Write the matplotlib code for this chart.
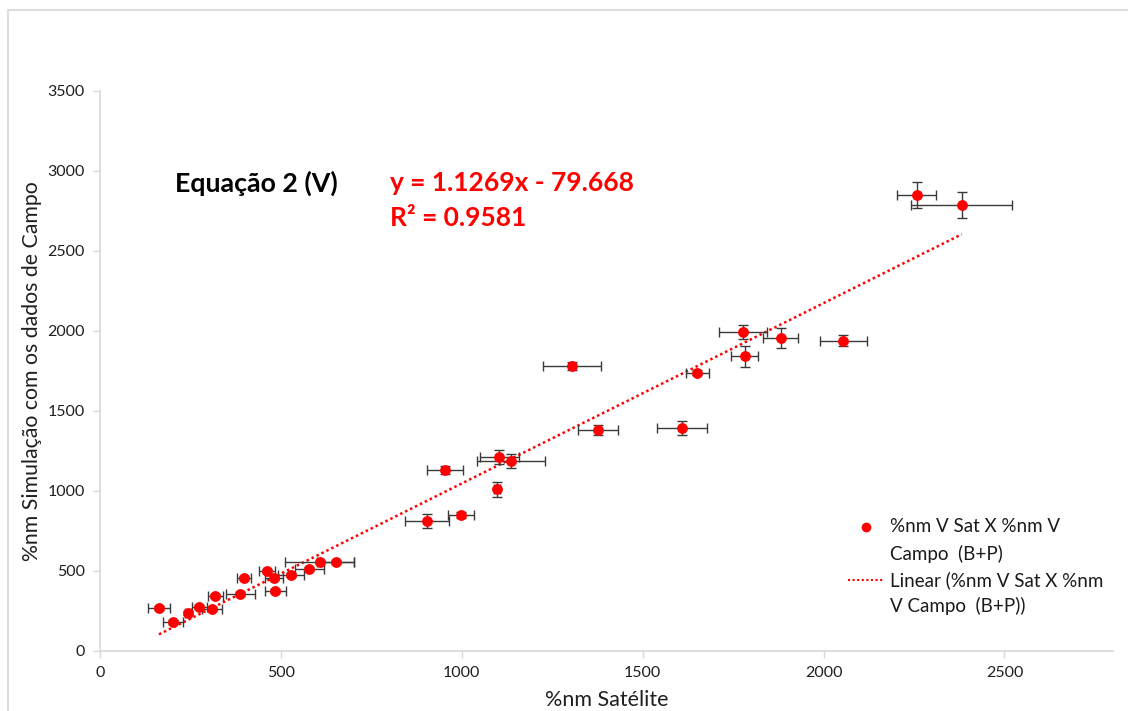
import matplotlib
matplotlib.use("Agg")
import matplotlib.pyplot as plt
from matplotlib.lines import Line2D
from matplotlib.patches import Rectangle

plt.rcParams['font.family'] = ['Lato', 'DejaVu Sans']

# Satellite (%nm V Sat) vs field simulation (%nm V Campo, B+P)
sat = [163, 202, 244, 274, 310, 319, 388, 398, 462, 481, 485, 529, 579, 607, 651,
       905, 953, 998, 1097, 1103, 1136, 1304, 1377, 1609, 1651, 1778, 1782, 1881,
       2055, 2257, 2382]
campo = [269, 181, 238, 275, 262, 344, 356, 456, 500, 456, 375, 475, 512, 556, 556,
         811, 1131, 850, 1012, 1212, 1186, 1781, 1381, 1393, 1739, 1992, 1842, 1958,
         1940, 2849, 2787]
sat_err = [30, 28, 8, 21, 28, 20, 40, 20, 22, 25, 30, 36, 40, 95, 50,
           61, 50, 36, 8, 54, 93, 80, 55, 70, 31, 67, 38, 49,
           66, 55, 140]
campo_err = [15, 15, 15, 15, 15, 15, 15, 15, 15, 15, 15, 15, 15, 15, 15,
             44, 25, 20, 47, 42, 44, 25, 30, 44, 15, 43, 64, 62,
             35, 82, 83]

# Linear trend reported for the series
slope = 1.1269
intercept = -79.668
r_squared = 0.9581

x_ticks = [0, 500, 1000, 1500, 2000, 2500]
y_ticks = [0, 500, 1000, 1500, 2000, 2500, 3000, 3500]

W, H = 1128, 711
fig = plt.figure(figsize=(W / 100, H / 100), dpi=100)
fig.patch.set_facecolor('white')

def fx(px):
    return px / W

def fy(py):
    return 1 - py / H

# chart area outline
fig.add_artist(Rectangle((fx(8), fy(760)), fx(1200), 750 / H, transform=fig.transFigure,
                         fill=False, edgecolor='#d9d9d9', linewidth=1.3))

ax = fig.add_axes([fx(100), fy(651), fx(1113) - fx(100), fy(91) - fy(651)])
ax.set_xlim(0, 2800)
ax.set_ylim(0, 3500)
ax.set_xticks(x_ticks)
ax.set_yticks(y_ticks)

for side in ('top', 'right'):
    ax.spines[side].set_visible(False)
for side in ('left', 'bottom'):
    ax.spines[side].set_color('#d9d9d9')
    ax.spines[side].set_linewidth(1.2)
ax.tick_params(axis='both', direction='out', length=5, width=1.0, color='#d9d9d9',
               labelsize=11.5, labelcolor='#1f1f1f', pad=6)

ax.errorbar(sat, campo, xerr=sat_err, yerr=campo_err, fmt='none',
            ecolor='#3a3a3a', elinewidth=1.0, capsize=3.5, capthick=1.0, zorder=2)
ax.plot(sat, campo, 'o', color='#ff0000', markersize=7.8, markeredgewidth=0, zorder=3)

x0, x1 = min(sat), max(sat)
ax.plot([x0, x1], [slope * x0 + intercept, slope * x1 + intercept],
        color='#ff0000', linestyle=(0, (1, 1.2)), linewidth=1.8, zorder=1)

ax.set_xlabel('%nm Satélite', fontsize=15.5, color='#1f1f1f', labelpad=7)
ax.set_ylabel('%nm Simulação com os dados de Campo', fontsize=15.3, color='#1f1f1f',
              labelpad=4)

sign = '-' if intercept < 0 else '+'
fig.text(fx(175), fy(183), 'Equação 2 (V)', fontsize=19.3, fontweight='bold',
         color='black', va='center', ha='left')
fig.text(fx(390), fy(183), f'y = {slope:.4f}x {sign} {abs(intercept):.3f}', fontsize=19,
         fontweight='bold', color='#ff0000', va='center', ha='left')
fig.text(fx(390), fy(218), f'R² = {r_squared:.4f}', fontsize=19, fontweight='bold',
         color='#ff0000', va='center', ha='left')

# legend
fig.add_artist(Line2D([fx(866)], [fy(527)], marker='o', color='#ff0000', markersize=7,
                      markeredgewidth=0, linestyle='none', transform=fig.transFigure))
fig.add_artist(Line2D([fx(848), fx(883)], [fy(580), fy(580)], color='#ff0000',
                      linestyle=(0, (1, 1.2)), linewidth=1.5, transform=fig.transFigure))
leg_kw = dict(fontsize=13.5, color='#1a1a1a', va='center', ha='left')
fig.text(fx(890), fy(527), '%nm V Sat X %nm V', **leg_kw)
fig.text(fx(890), fy(554), 'Campo  (B+P)', **leg_kw)
fig.text(fx(890), fy(580), 'Linear (%nm V Sat X %nm', **leg_kw)
fig.text(fx(890), fy(606), 'V Campo  (B+P))', **leg_kw)

fig.savefig('out.png', dpi=100)
